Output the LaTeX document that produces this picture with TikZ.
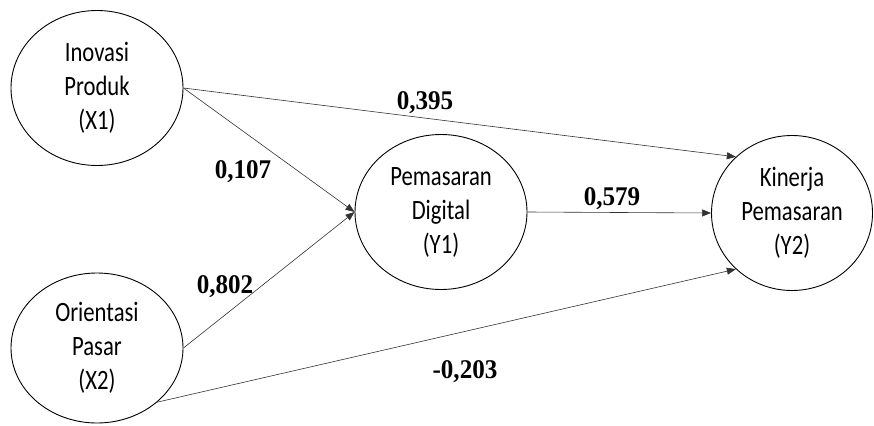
\documentclass[tikz,border=0pt]{standalone}
\usepackage{fontspec}
\setmainfont{Carlito}
\newfontfamily\varfont[FakeStretch=0.81]{Carlito}
\newfontfamily\coeffont[FakeStretch=0.93]{Liberation Serif}
\usetikzlibrary{shapes.geometric,arrows.meta}

\begin{document}
\begin{tikzpicture}[x=1pt,y=-1pt,
  var/.style={draw, ellipse, line width=0.9pt, inner sep=0pt,
    minimum width=172pt, minimum height=155pt, align=center,
    font=\varfont\fontsize{28}{34}\selectfont},
  path/.style={draw=black!80, line width=0.6pt,
    -{Triangle[length=9pt,width=7pt]}},
  coef/.style={anchor=base, font=\coeffont\bfseries\fontsize{27}{27}\selectfont}]

  \useasboundingbox (0,0) rectangle (874,425);

  % latent variables
  \node[var] (X1) at (97,88) {Inovasi\\Produk\\(X1)};
  \node[var, minimum height=150pt] (X2) at (97,348) {Orientasi\\Pasar\\(X2)};
  \node[var] (Y1) at (441,212) {Pemasaran\\Digital\\(Y1)};
  \node[var, minimum width=161pt] (Y2) at (792,213) {Kinerja\\Pemasaran\\(Y2)};

  % paths
  \draw[path] (X1.east) -- (Y2.135); % X1->Y2
  \draw[path] (X1.east) -- (Y1.west); % X1->Y1
  \draw[path] (X2.east) -- (Y1.west); % X2->Y1
  \draw[path] (X2.-42) -- (Y2.225); % X2->Y2
  \draw[path] (Y1.east) -- (Y2.west); % Y1->Y2

  % coefficients
  \node[coef] (cX1Y2) at (425,110) {0,395};
  \node[coef] (cX1Y1) at (243,178) {0,107};
  \node[coef] (cX2Y1) at (225,293) {0,802};
  \node[coef] (cY1Y2) at (612,205) {0,579};
  \node[coef] (cX2Y2) at (465,378) {-0,203};
\end{tikzpicture}
\end{document}
